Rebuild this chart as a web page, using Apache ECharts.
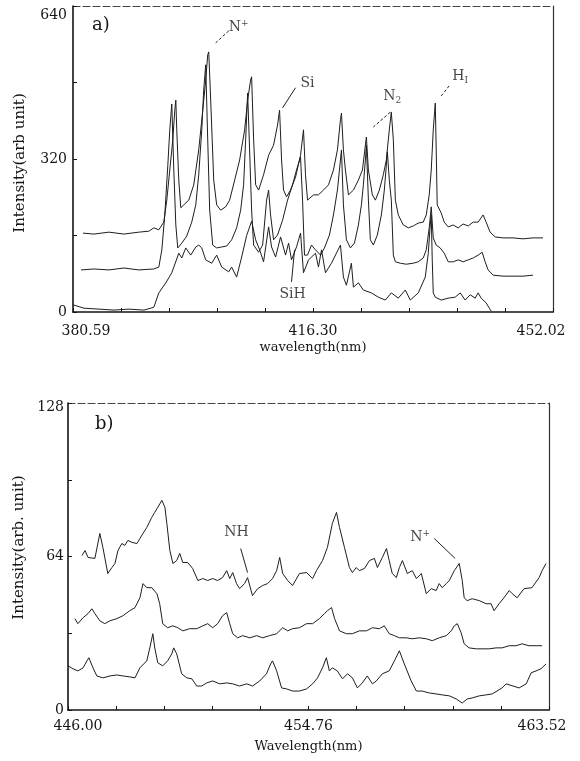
<!DOCTYPE html>
<html><head><meta charset="utf-8">
<script src="https://cdn.jsdelivr.net/npm/echarts@6/dist/echarts.min.js"></script>
<style>html,body{margin:0;padding:0;background:#fff}#c{width:580px;height:761px}</style>
</head><body><div id="c"></div>
<script>
// ---- tick labels ----
const xLabelsA = ['380.59','416.30','452.02'];
const yLabelsA = [0,320,640];
const xLabelsB = ['446.00','454.76','463.52'];
const yLabelsB = [0,64,128];
const axisNamesA = ['wavelength(nm)','Intensity(arb unit)'];
const axisNamesB = ['Wavelength(nm)','Intensity(arb. unit)'];

// ---- panel a spectra [wavelength nm, intensity] ----
const topA = [[382.08,165],[383.71,163],[385.94,167],[388.16,163],[390.39,167],[391.88,169],[392.62,176],[393.36,172],[394.10,188],[394.55,234],[394.99,297],[395.44,360],[395.74,422],[395.89,443],[396.03,381],[396.33,276],[396.63,218],[397.07,224],[397.82,234],[398.56,266],[399.30,339],[399.90,422],[400.34,485],[400.64,538],[400.79,544],[401.08,443],[401.53,276],[401.97,224],[402.57,213],[403.31,220],[403.90,234],[404.65,276],[405.39,318],[406.13,381],[406.58,443],[407.02,485],[407.17,492],[407.47,360],[407.77,266],[408.21,255],[408.95,287],[409.70,328],[410.44,349],[411.03,391],[411.33,422],[411.63,318],[411.92,255],[412.37,241],[412.96,255],[413.71,282],[414.45,328],[414.89,381],[415.19,287],[415.49,234],[416.38,245],[417.12,245],[417.86,255],[418.61,266],[419.35,297],[419.94,339],[420.39,402],[420.54,416],[420.83,339],[421.13,297],[421.58,245],[422.32,255],[423.06,276],[423.66,297],[424.10,349],[424.25,366],[424.55,297],[425.14,245],[425.59,234],[426.18,255],[426.77,287],[427.22,318],[427.66,381],[427.96,418],[428.26,360],[428.56,234],[429.00,203],[429.74,182],[430.49,176],[431.23,180],[431.97,186],[432.71,188],[433.16,203],[433.60,245],[433.90,297],[434.20,381],[434.50,437],[434.64,339],[434.79,224],[435.39,207],[435.83,188],[436.43,178],[437.17,182],[437.91,176],[438.65,184],[439.40,180],[440.14,188],[440.88,188],[441.62,203],[442.07,188],[442.66,167],[443.41,157],[444.59,155],[446.08,155],[447.56,153],[449.05,155],[450.53,155]];
const midA = [[381.78,88],[383.71,90],[385.94,88],[388.16,92],[390.39,88],[392.62,90],[393.36,94],[393.81,130],[394.25,203],[394.70,307],[394.99,381],[395.29,435],[395.59,297],[395.89,182],[396.18,134],[396.78,144],[397.52,159],[398.26,188],[398.86,224],[399.30,287],[399.75,381],[400.04,464],[400.34,517],[400.64,360],[400.93,213],[401.38,140],[401.97,134],[402.72,136],[403.46,138],[404.20,151],[404.94,176],[405.54,213],[405.98,266],[406.28,360],[406.58,458],[406.87,339],[407.17,213],[407.47,140],[408.21,125],[408.81,140],[409.40,234],[409.70,255],[409.99,203],[410.44,151],[411.03,161],[411.78,192],[412.52,234],[413.26,266],[413.85,297],[414.45,324],[414.75,234],[415.04,119],[415.49,119],[416.08,140],[416.68,130],[417.42,119],[418.01,134],[418.75,161],[419.35,203],[419.94,255],[420.24,297],[420.54,339],[420.83,224],[421.28,151],[421.87,134],[422.47,144],[423.06,182],[423.51,224],[423.80,266],[424.10,318],[424.25,349],[424.55,234],[424.84,151],[425.29,140],[425.88,161],[426.48,203],[426.92,255],[427.22,307],[427.37,335],[427.66,276],[427.96,234],[428.26,119],[428.56,105],[429.30,102],[430.19,100],[431.23,102],[431.97,105],[432.71,113],[433.16,130],[433.60,176],[433.90,220],[434.20,155],[434.64,140],[435.24,134],[435.83,123],[436.43,105],[437.17,105],[437.91,109],[438.65,105],[439.40,109],[440.14,113],[440.88,119],[441.48,125],[441.92,105],[442.37,88],[443.11,77],[444.59,75],[446.08,75],[447.56,75],[449.05,77]];
const botA = [[380.59,15],[382.22,8],[384.45,6],[386.68,4],[388.91,6],[391.13,4],[392.17,8],[392.62,10],[393.36,40],[394.40,61],[395.29,82],[396.33,123],[396.78,113],[397.37,134],[398.11,119],[398.86,136],[399.30,140],[399.75,134],[400.34,109],[401.23,102],[401.97,119],[402.72,94],[403.76,84],[404.20,94],[404.94,73],[405.69,115],[406.43,160],[407.17,190],[407.77,151],[408.36,130],[408.95,105],[409.70,178],[410.14,136],[410.74,115],[411.48,157],[412.22,119],[412.67,144],[413.11,109],[413.85,136],[414.45,165],[414.89,82],[415.64,109],[416.68,123],[417.12,94],[417.57,130],[418.16,82],[419.05,102],[419.79,123],[420.39,140],[420.83,73],[421.28,56],[422.02,102],[422.32,52],[423.06,61],[423.80,46],[424.99,40],[426.03,31],[427.07,25],[427.96,40],[429.00,29],[430.04,46],[430.78,25],[431.97,40],[433.01,73],[433.46,123],[433.75,182],[433.90,203],[434.05,109],[434.20,40],[434.50,31],[435.39,25],[436.43,29],[437.46,31],[438.21,40],[438.95,25],[439.69,36],[440.44,29],[440.88,40],[441.33,29],[442.07,19],[442.81,2]];

// ---- panel b spectra ----
const topB = [[446.51,64.4],[446.62,66.5],[446.73,63.6],[446.98,63.2],[447.16,73.6],[447.27,67.8],[447.45,56.9],[447.60,59.4],[447.71,61.1],[447.82,66.5],[447.96,69.4],[448.07,68.6],[448.18,70.7],[448.33,69.9],[448.51,69.4],[448.62,71.5],[448.73,73.6],[448.87,76.1],[449.05,80.3],[449.16,82.4],[449.27,84.5],[449.42,87.4],[449.53,84.5],[449.60,77.8],[449.71,66.5],[449.82,61.1],[449.96,62.3],[450.07,65.3],[450.18,61.5],[450.36,61.5],[450.54,59.0],[450.73,54.0],[450.91,54.8],[451.09,54.0],[451.27,54.8],[451.45,54.0],[451.63,55.2],[451.78,58.1],[451.89,54.8],[452.00,57.3],[452.14,52.7],[452.25,50.6],[452.43,52.7],[452.54,55.2],[452.72,47.7],[452.91,50.6],[453.09,51.9],[453.27,52.7],[453.45,54.8],[453.60,58.1],[453.71,63.6],[453.82,56.9],[454.00,54.0],[454.18,51.9],[454.43,56.9],[454.69,57.3],[454.91,54.8],[455.05,58.1],[455.27,62.3],[455.45,67.8],[455.63,77.8],[455.78,82.4],[455.89,76.1],[456.07,67.8],[456.25,59.4],[456.36,57.3],[456.50,59.4],[456.61,58.1],[456.80,59.0],[456.98,62.3],[457.16,63.2],[457.27,59.4],[457.45,63.6],[457.60,67.3],[457.70,62.3],[457.81,56.9],[457.96,55.2],[458.07,59.4],[458.18,62.3],[458.36,56.9],[458.54,58.1],[458.69,54.8],[458.87,56.9],[459.05,48.5],[459.23,50.6],[459.41,49.8],[459.52,52.7],[459.63,51.0],[459.78,52.7],[459.89,54.0],[460.07,58.1],[460.25,61.1],[460.36,54.0],[460.43,46.8],[460.54,45.6],[460.72,46.4],[460.98,45.6],[461.23,44.3],[461.41,44.3],[461.52,41.4],[461.70,44.3],[461.88,46.8],[462.07,49.8],[462.18,48.5],[462.36,46.8],[462.61,50.6],[462.90,51.0],[463.16,55.2],[463.27,58.1],[463.41,61.1]];
const midB = [[446.25,38.1],[446.36,36.0],[446.55,38.5],[446.73,40.2],[446.87,42.2],[446.98,40.2],[447.16,37.2],[447.34,36.0],[447.53,37.2],[447.78,38.1],[448.00,39.3],[448.25,41.4],[448.44,42.7],[448.62,46.8],[448.73,52.7],[448.87,51.0],[449.05,51.0],[449.24,48.5],[449.34,44.3],[449.45,36.0],[449.63,34.3],[449.82,35.1],[450.00,34.3],[450.18,33.0],[450.43,33.9],[450.69,33.9],[450.91,35.1],[451.09,36.0],[451.27,34.3],[451.45,36.0],[451.63,39.3],[451.78,40.6],[451.89,36.0],[452.00,31.8],[452.18,30.1],[452.36,31.0],[452.62,30.1],[452.87,31.0],[453.09,30.1],[453.34,31.0],[453.60,31.8],[453.82,34.3],[454.00,33.0],[454.18,33.9],[454.43,34.3],[454.69,36.0],[454.91,36.0],[455.16,38.1],[455.34,40.2],[455.45,41.4],[455.60,42.7],[455.71,38.1],[455.89,33.0],[456.14,31.8],[456.36,31.8],[456.61,33.0],[456.87,33.0],[457.09,34.3],[457.34,33.9],[457.52,35.1],[457.70,31.8],[457.89,31.0],[458.07,30.1],[458.32,30.1],[458.54,29.7],[458.79,30.1],[459.05,29.7],[459.27,28.9],[459.52,30.1],[459.78,31.0],[459.96,33.0],[460.07,35.1],[460.18,36.0],[460.32,32.2],[460.43,27.6],[460.61,25.9],[460.87,25.5],[461.08,25.5],[461.34,25.5],[461.59,25.9],[461.81,25.9],[462.07,26.8],[462.32,26.8],[462.54,27.6],[462.79,26.8],[463.05,26.8],[463.27,26.8]];
const botB = [[446.00,18.4],[446.18,17.2],[446.36,16.3],[446.55,17.6],[446.69,20.5],[446.76,21.8],[446.91,17.6],[447.05,14.2],[447.27,13.4],[447.53,14.2],[447.78,14.6],[448.00,14.2],[448.25,13.8],[448.44,13.4],[448.62,17.6],[448.87,20.5],[448.98,25.9],[449.09,31.8],[449.16,25.9],[449.27,19.7],[449.45,18.4],[449.63,20.5],[449.78,23.4],[449.85,25.9],[449.96,23.4],[450.14,15.1],[450.33,13.4],[450.51,13.0],[450.69,10.0],[450.87,10.0],[451.05,11.3],[451.27,12.1],[451.53,10.9],[451.78,11.3],[452.00,10.9],[452.25,10.0],[452.51,10.9],[452.72,10.0],[452.98,12.1],[453.23,15.1],[453.38,19.2],[453.45,20.5],[453.60,16.3],[453.78,9.2],[453.96,8.8],[454.18,7.9],[454.43,7.9],[454.69,8.8],[454.91,10.9],[455.09,13.4],[455.27,17.6],[455.41,21.8],[455.52,16.3],[455.63,17.6],[455.81,16.3],[456.00,13.0],[456.18,15.1],[456.36,13.4],[456.54,9.2],[456.72,11.3],[456.90,14.2],[457.09,10.9],[457.23,12.1],[457.45,15.1],[457.70,16.3],[457.89,20.5],[458.07,24.7],[458.25,19.2],[458.50,12.1],[458.69,7.9],[458.90,7.9],[459.16,7.1],[459.41,6.7],[459.63,6.3],[459.89,5.9],[460.14,4.6],[460.36,2.9],[460.54,4.6],[460.72,5.0],[460.98,5.9],[461.23,6.3],[461.45,6.7],[461.81,9.2],[461.96,10.9],[462.43,9.2],[462.69,10.9],[462.87,15.5],[463.05,16.3],[463.23,17.2],[463.41,19.2]];

// ---- annotations: [wavelength, intensity, text] and pointer lines [x1,y1,x2,y2,dashed]
const annA = [[405.24,596,'N{sup|+}'],[415.49,479,'Si'],[428.11,450,'N{sub|2}'],[438.21,492,'H{sub|I}'],[413.26,36,'SiH']];
const ptrA = [[403.76,588,401.83,563,1],[413.71,469,411.78,427,0],[427.81,418,425.29,387,1],[436.57,473,435.39,452,1],[413.11,63,413.56,130,0]];
const annB = [[452.14,74.0,'NH'],[458.83,71.9,'N{sup|+}']];
const ptrB = [[452.29,67.3,452.54,57.3,0],[459.34,71.5,460.10,63.2,0]];

const F = 'DejaVu Serif';
const INK = '#151515';
const TRACE = '#1e1e1e';

function bottomX(labels, gi, name, padL, padR, margin, gap) {
  const min = parseFloat(labels[0]), max = parseFloat(labels[2]);
  const step = (max - min) / 10;
  return {
    type: 'value', gridIndex: gi, position: 'bottom', min: min, max: max, interval: step,
    name: name, nameLocation: 'middle', nameGap: gap,
    nameTextStyle: {fontFamily: F, fontSize: 13, color: INK},
    axisLine: {show: true, onZero: false, lineStyle: {color: INK, width: 1.6}},
    axisTick: {show: true, inside: true, length: 4, lineStyle: {color: INK, width: 1}},
    splitLine: {show: false},
    axisLabel: {
      show: true, margin: margin, fontFamily: F, fontSize: 14, color: INK,
      showMinLabel: true, showMaxLabel: true, hideOverlap: false,
      formatter: function (v) {
        const i = Math.round((v - min) / step);
        if (i === 0) return '{first|' + labels[0] + '}';
        if (i === 5) return labels[1];
        if (i === 10) return '{last|' + labels[2] + '}';
        return '';
      },
      rich: {
        first: {padding: [0, 0, 0, padL], fontFamily: F, fontSize: 14, color: INK},
        last: {padding: [0, padR, 0, 0], fontFamily: F, fontSize: 14, color: INK}
      }
    }
  };
}
function topX(labels, gi) {
  return {
    type: 'value', gridIndex: gi, position: 'top', min: parseFloat(labels[0]), max: parseFloat(labels[2]),
    axisLine: {show: true, onZero: false, lineStyle: {color: '#444', width: 1, type: [7, 3]}},
    axisTick: {show: false}, axisLabel: {show: false}, splitLine: {show: false}
  };
}
function leftY(labels, gi, name, gap, pad, margin, topPad) {
  return {
    type: 'value', gridIndex: gi, position: 'left', min: 0, max: labels[2], interval: labels[1] / 2,
    name: name, nameLocation: 'middle', nameGap: gap,
    nameTextStyle: {fontFamily: F, fontSize: 15, color: INK, padding: pad},
    axisLine: {show: true, onZero: false, lineStyle: {color: INK, width: 1.6}},
    axisTick: {show: true, inside: true, length: 4, lineStyle: {color: INK, width: 1}},
    splitLine: {show: false},
    axisLabel: {
      show: true, margin: margin, fontFamily: F, fontSize: 14, color: INK,
      showMinLabel: true, showMaxLabel: true,
      formatter: function (v) {
        if (v === labels[2]) return '{top|' + v + '}';
        return labels.indexOf(v) >= 0 ? String(v) : '';
      },
      rich: {top: {padding: [topPad, 0, 0, 0], fontFamily: F, fontSize: 14, color: INK}}
    }
  };
}
function rightY(labels, gi) {
  return {
    type: 'value', gridIndex: gi, position: 'right', min: 0, max: labels[2],
    axisLine: {show: true, onZero: false, lineStyle: {color: '#333', width: 1.2}},
    axisTick: {show: false}, axisLabel: {show: false}, splitLine: {show: false}
  };
}
function trace(data, xi, yi) {
  return {type: 'line', xAxisIndex: xi, yAxisIndex: yi, data: data, symbol: 'none', showSymbol: false,
    lineStyle: {color: TRACE, width: 1}, silent: true, z: 2};
}
function annot(data, ptrs, xi, yi) {
  return {
    type: 'scatter', xAxisIndex: xi, yAxisIndex: yi, data: data, symbolSize: 1, silent: true, z: 5,
    itemStyle: {color: 'rgba(0,0,0,0)'},
    label: {
      show: true, position: 'inside', formatter: function (p) { return p.data[2]; },
      fontFamily: F, fontSize: 14, color: INK, lineHeight: 16,
      rich: {
        sup: {fontFamily: F, fontSize: 9, color: INK, verticalAlign: 'top', lineHeight: 9},
        sub: {fontFamily: F, fontSize: 9, color: INK, verticalAlign: 'bottom', lineHeight: 9}
      }
    },
    markLine: {
      silent: true, symbol: ['none', 'none'], label: {show: false}, animation: false,
      lineStyle: {color: '#222', width: 1, type: 'solid'},
      data: ptrs.map(function (p) {
        return [{coord: [p[0], p[1]], lineStyle: {color: '#222', width: 1, type: p[4] ? [3, 2] : 'solid'}},
                {coord: [p[2], p[3]]}];
      })
    }
  };
}

const chart = echarts.init(document.getElementById('c'), null, {renderer: 'canvas'});
chart.setOption({
  backgroundColor: '#ffffff',
  animation: false,
  grid: [
    {left: 73, top: 6, width: 480, height: 306, containLabel: false, outerBoundsMode: 'none'},
    {left: 68, top: 403, width: 481, height: 307, containLabel: false, outerBoundsMode: 'none'}
  ],
  xAxis: [
    bottomX(xLabelsA, 0, axisNamesA[0], 26, 24, 12, 29),
    topX(xLabelsA, 0),
    bottomX(xLabelsB, 1, axisNamesB[0], 20, 14, 9, 30),
    topX(xLabelsB, 1)
  ],
  yAxis: [
    leftY(yLabelsA, 0, axisNamesA[1], 45, [0, 8, 0, 0], 6, 18),
    rightY(yLabelsA, 0),
    leftY(yLabelsB, 1, axisNamesB[1], 36, [0, 0, 0, 18], 4, 8),
    rightY(yLabelsB, 1)
  ],
  graphic: [
    {type: 'text', left: 92, top: 16, style: {text: 'a)', font: '18px "DejaVu Serif"', fill: INK}},
    {type: 'text', left: 95, top: 415, style: {text: 'b)', font: '18px "DejaVu Serif"', fill: INK}}
  ],
  series: [
    trace(topA, 0, 0), trace(midA, 0, 0), trace(botA, 0, 0),
    annot(annA, ptrA, 0, 0),
    trace(topB, 2, 2), trace(midB, 2, 2), trace(botB, 2, 2),
    annot(annB, ptrB, 2, 2)
  ]
});
</script>
</body></html>
